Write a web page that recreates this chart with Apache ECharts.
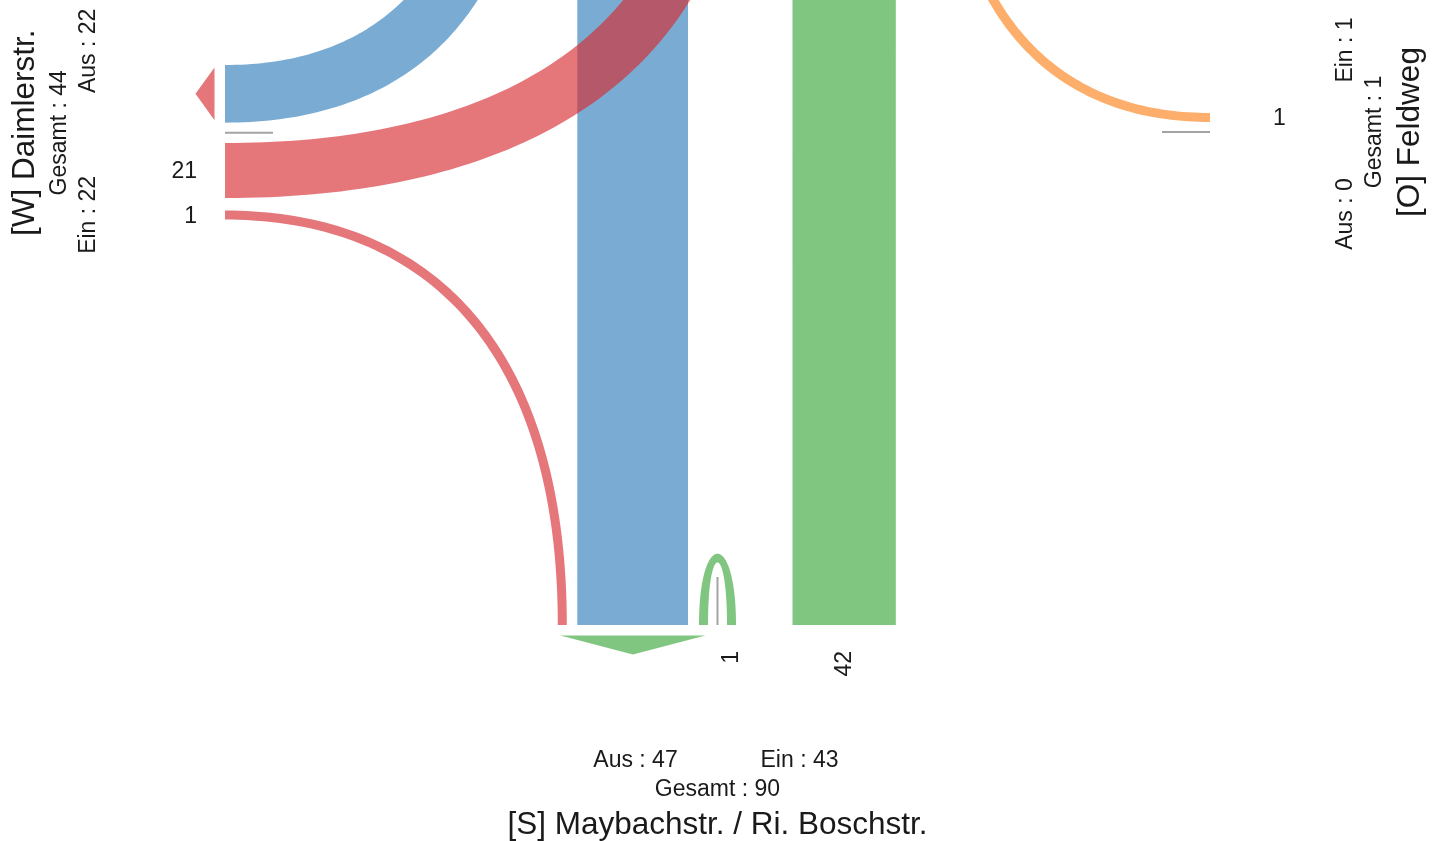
<!DOCTYPE html>
<html>
<head>
<meta charset="utf-8">
<script src="https://cdn.jsdelivr.net/npm/echarts/dist/echarts.min.js"></script>
<style>
html,body{margin:0;padding:0;background:#ffffff;}
#chart{width:1442px;height:841px;}
</style>
</head>
<body>
<div id="chart"></div>
<script>
// ---------------- data ----------------
const roadKeys   = ['W', 'S', 'O'];
const roadNames  = ['[W] Daimlerstr.', '[S] Maybachstr. / Ri. Boschstr.', '[O] Feldweg'];
const roadEin    = [22, 43, 1];
const roadAus    = [22, 47, 0];
const roadGesamt = [44, 90, 1];

const flowFrom   = ['N', 'N', 'S', 'S', 'W', 'W', 'O'];
const flowTo     = ['S', 'W', 'N', 'S', 'N', 'S', 'N'];
const flowValues = [45, 22, 42, 1, 21, 1, 1];

// ---------------- layout / style ----------------
const SX = 2.46, SY = 2.62, MINW = 9, K = 0.64, UTURN_BASE = 71, UTURN_K = 0.65;
const FONT = "'Liberation Sans', Arial, sans-serif";
const TEXT_COLOR = '#1a1a1a';
const ROAD_COLOR = {
  N: 'rgba(47,125,186,0.64)',
  S: 'rgba(57,166,57,0.64)',
  W: 'rgba(214,41,46,0.64)',
  O: 'rgba(252,128,24,0.64)'
};
const ROAD_GEOM = {
  N: { edge: -220, horiz: true,  inDir: [0, 1] },
  S: { edge: 625,  horiz: true,  inDir: [0, -1] },
  W: { edge: 225,  horiz: false, inDir: [1, 0] },
  O: { edge: 1210, horiz: false, inDir: [-1, 0] }
};
const LANE_SEQ = {
  N: { start: 478,   seq: ['in:N>W', 45.2, 'in:N>S', 7, 'out:W>N', 45.8, 'out:S>N', 44, 'out:O>N'] },
  W: { start: 65,    seq: ['out:N>W', 10.2, '|', 10.2, 'in:W>N', 12.5, 'in:W>S'] },
  S: { start: 557.8, seq: ['out:W>S', 10.5, 'out:N>S', 11, 'out:S>S', 9.5, '|', 9.5, 'in:S>S', 56.5, 'in:S>N'] },
  O: { start: 113,   seq: ['in:O>N', 10, '|'] }
};
const FLOW_LABEL_DIST = { N: 26, S: 26, W: 28, O: 63 };

// ---------------- helpers ----------------
const add = (a, b) => [a[0] + b[0], a[1] + b[1]];
const sub = (a, b) => [a[0] - b[0], a[1] - b[1]];
const mul = (a, s) => [a[0] * s, a[1] * s];
const dot = (a, b) => a[0] * b[0] + a[1] * b[1];
const neg = a => [-a[0], -a[1]];

function flowIndex(f, t) {
  for (let i = 0; i < flowFrom.length; i++) if (flowFrom[i] === f && flowTo[i] === t) return i;
  return -1;
}

function buildLanes() {
  const res = {};
  for (const road in LANE_SEQ) {
    const g = ROAD_GEOM[road];
    const spec = LANE_SEQ[road];
    let cur = spec.start;
    const lanes = {};
    let divider = null;
    spec.seq.forEach(item => {
      if (typeof item === 'number') { cur += item; return; }
      if (item === '|') { divider = cur; return; }
      const parts = item.split(':');
      const ft = parts[1].split('>');
      const idx = flowIndex(ft[0], ft[1]);
      const w = Math.max(flowValues[idx] * (g.horiz ? SX : SY), MINW);
      lanes[item] = { lo: cur, hi: cur + w, idx: idx, role: parts[0] };
      cur += w;
    });
    res[road] = { lanes: lanes, divider: divider };
  }
  return res;
}
const LANES = buildLanes();

function roadPoint(road, c, outDist) {
  const g = ROAD_GEOM[road];
  const base = g.horiz ? [c, g.edge] : [g.edge, c];
  return add(base, mul(neg(g.inDir), outDist || 0));
}

function flowEnd(i, role) {
  const road = role === 'in' ? flowFrom[i] : flowTo[i];
  const key = role + ':' + flowFrom[i] + '>' + flowTo[i];
  const lane = LANES[road].lanes[key];
  const g = ROAD_GEOM[road];
  const dir = role === 'in' ? g.inDir : neg(g.inDir);
  const lo = roadPoint(road, lane.lo), hi = roadPoint(road, lane.hi);
  const L = [dir[1], -dir[0]];
  const left = dot(lo, L) > dot(hi, L) ? lo : hi;
  const right = left === lo ? hi : lo;
  return { left: left, right: right, dir: dir, road: road, center: (lane.lo + lane.hi) / 2 };
}

function edgeCurve(P0, dA, P3, dB) {
  const delta = sub(P3, P0);
  const c = dot(dA, dB);
  let hA, hB;
  if (c > 0.5) {
    hA = hB = Math.hypot(delta[0], delta[1]) / 3;
  } else if (c < -0.5) {
    hA = hB = UTURN_BASE + UTURN_K * Math.hypot(delta[0], delta[1]);
  } else {
    hA = K * Math.abs(dot(delta, dA));
    hB = K * Math.abs(dot(delta, dB));
  }
  const P1 = add(P0, mul(dA, hA));
  const P2 = sub(P3, mul(dB, hB));
  const pts = [];
  const N = 90;
  for (let s = 0; s <= N; s++) {
    const t = s / N, u = 1 - t;
    const b0 = u * u * u, b1 = 3 * u * u * t, b2 = 3 * u * t * t, b3 = t * t * t;
    pts.push([
      b0 * P0[0] + b1 * P1[0] + b2 * P2[0] + b3 * P3[0],
      b0 * P0[1] + b1 * P1[1] + b2 * P2[1] + b3 * P3[1]
    ]);
  }
  return pts;
}

function flowPolygon(i) {
  const a = flowEnd(i, 'in');
  const b = flowEnd(i, 'out');
  const e1 = edgeCurve(a.left, a.dir, b.left, b.dir);
  const e2 = edgeCurve(a.right, a.dir, b.right, b.dir);
  return e1.concat(e2.reverse());
}

function textAlignFor(outward, rotated) {
  const localX = rotated ? [0, -1] : [1, 0];
  return dot(outward, localX) < 0 ? 'right' : 'left';
}

// ---------------- render ----------------
function renderFlow(params, api) {
  const i = params.dataIndex;
  const poly = flowPolygon(i).map(p => api.coord(p));
  const children = [{
    type: 'polygon',
    shape: { points: poly },
    style: { fill: ROAD_COLOR[flowFrom[i]], stroke: null }
  }];
  // value label at the origin end
  const a = flowEnd(i, 'in');
  const g = ROAD_GEOM[a.road];
  const outward = neg(g.inDir);
  const rotated = g.horiz;
  const p = api.coord(roadPoint(a.road, a.center, FLOW_LABEL_DIST[a.road]));
  children.push({
    type: 'text',
    x: p[0], y: p[1] + (rotated ? 0 : 1.5),
    rotation: rotated ? Math.PI / 2 : 0,
    style: {
      text: String(api.value(1)),
      fontSize: 23, fontFamily: FONT, fill: TEXT_COLOR,
      align: textAlignFor(outward, rotated), verticalAlign: 'middle'
    },
    z2: 10
  });
  return { type: 'group', children: children };
}

function renderRoad(params, api) {
  const r = params.dataIndex;
  const road = roadKeys[r];
  const g = ROAD_GEOM[road];
  const info = LANES[road];
  const children = [];
  // divider tick
  const d0 = api.coord(roadPoint(road, info.divider, 0));
  const d1 = api.coord(roadPoint(road, info.divider, -48));
  children.push({
    type: 'line',
    shape: { x1: d0[0], y1: d0[1], x2: d1[0], y2: d1[1] },
    style: { stroke: '#a3a3a3', lineWidth: 2 }
  });
  // arrow over outgoing lanes
  let lo = Infinity, hi = -Infinity, inSum = 0, inCnt = 0;
  for (const key in info.lanes) {
    const l = info.lanes[key];
    if (l.role === 'out') { lo = Math.min(lo, l.lo); hi = Math.max(hi, l.hi); }
    else { inSum += (l.lo + l.hi) / 2; inCnt++; }
  }
  if (roadAus[r] > 0 && lo < hi) {
    const inset = 2.5;
    const pA = api.coord(roadPoint(road, lo + inset, 10.5));
    const pB = api.coord(roadPoint(road, hi - inset, 10.5));
    const pT = api.coord(roadPoint(road, (lo + hi) / 2, 29.5));
    children.push({
      type: 'polygon',
      shape: { points: [pA, pB, pT] },
      style: { fill: ROAD_COLOR[road], stroke: null }
    });
  }
  // labels
  const inSide = inCnt ? Math.sign(inSum / inCnt - info.divider) : 1;
  const rotated = !g.horiz;
  const mk = (txt, along, dist, size) => {
    const p = api.coord(roadPoint(road, along, dist));
    return {
      type: 'text', x: p[0], y: p[1],
      rotation: rotated ? Math.PI / 2 : 0,
      style: { text: txt, fontSize: size, fontFamily: FONT, fill: TEXT_COLOR,
               align: 'center', verticalAlign: 'middle' }
    };
  };
  children.push(mk('Ein : ' + roadEin[r], info.divider + inSide * 82, 136, 23));
  children.push(mk('Aus : ' + roadAus[r], info.divider - inSide * 82, 136, 23));
  children.push(mk('Gesamt : ' + roadGesamt[r], info.divider, 165, 23));
  children.push(mk(roadNames[r], info.divider, 200, 31.5));
  return { type: 'group', children: children };
}

const chart = echarts.init(document.getElementById('chart'), null, { renderer: 'canvas' });
chart.setOption({
  animation: false,
  backgroundColor: '#ffffff',
  grid: { left: 0, right: 0, top: 0, bottom: 0 },
  xAxis: { type: 'value', min: 0, max: 1442, show: false },
  yAxis: { type: 'value', min: 0, max: 841, inverse: true, show: false },
  series: [
    {
      type: 'custom',
      name: 'flows',
      renderItem: renderFlow,
      data: flowValues.map((v, i) => [i, v]),
      encode: { x: -1, y: -1 },
      silent: true
    },
    {
      type: 'custom',
      name: 'roads',
      renderItem: renderRoad,
      data: roadGesamt.map((v, i) => [i, v]),
      encode: { x: -1, y: -1 },
      silent: true,
      z: 3
    }
  ]
});
</script>
</body>
</html>
